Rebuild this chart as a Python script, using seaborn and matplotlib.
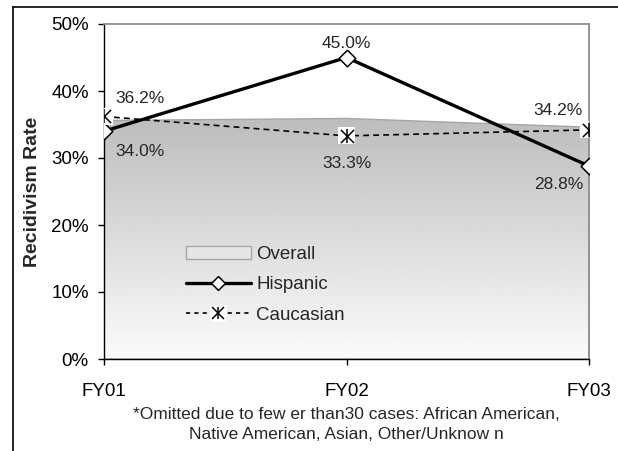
import numpy as np
import matplotlib
matplotlib.use("Agg")
import matplotlib.pyplot as plt
from matplotlib.lines import Line2D
from matplotlib.patches import Patch
from matplotlib.legend_handler import HandlerTuple
from matplotlib.ticker import FuncFormatter
import seaborn as sns

# Recidivism rates by fiscal year
years = ["FY01", "FY02", "FY03"]
overall = [0.356, 0.359, 0.346]
hispanic = [0.340, 0.450, 0.288]
caucasian = [0.362, 0.333, 0.342]
yticks = [0.0, 0.1, 0.2, 0.3, 0.4, 0.5]
footnote = ("*Omitted due to few er than30 cases: African American,\n"
            "Native American, Asian, Other/Unknow n")

sns.set_theme(style="white")
plt.rcParams["font.family"] = ["Liberation Sans", "DejaVu Sans"]

W, H = 618, 451
fig = plt.figure(figsize=(W / 100, H / 100), dpi=100)
ax = fig.add_axes([104 / W, 1 - 359 / H, (589 - 104) / W, (359 - 24) / H])

x = np.arange(len(years))

# Overall: gray gradient area
poly = ax.fill_between(x, overall, 0, facecolor="none", edgecolor="#a6a6a6", lw=1.0, zorder=1)
top = max(overall)
grad = np.linspace(0.985, 0.74, 256).reshape(-1, 1)
img = ax.imshow(grad, cmap="gray", vmin=0, vmax=1, aspect="auto",
                extent=[0, 2, 0, top], origin="lower", zorder=0.9)
img.set_clip_path(poly.get_paths()[0], transform=ax.transData)

diamond = [(0, 1), (1, 0), (0, -1), (-1, 0), (0, 1)]

# Hispanic: solid line with white diamonds
sns.lineplot(x=years, y=hispanic, ax=ax, color="black", lw=2.4, marker=diamond,
             ms=12, mfc="white", mec="black", mew=1.1, zorder=4, sort=False)

# Caucasian: dashed line with star markers on white squares
sns.lineplot(x=years, y=caucasian, ax=ax, color="black", lw=1.2, dashes=False,
             linestyle=(0, (3.5, 2.5)), zorder=3, sort=False)
sns.scatterplot(x=years, y=caucasian, ax=ax, marker="s", s=150, color="white",
                edgecolor="none", linewidth=0, zorder=5)
sns.scatterplot(x=years, y=caucasian, ax=ax, marker="x", s=90, color="black",
                linewidth=1.1, zorder=6)
sns.scatterplot(x=years, y=caucasian, ax=ax, marker="|", s=90, color="black",
                linewidth=1.1, zorder=6)

# Value labels
fs_tick = 13.5
fs_val = 12.5
px = 0.72
offs_h = [(11, -20, "left"), (0, 14, "center"), (-6, -18, "right")]
offs_c = [(11, 18, "left"), (0, -28, "center"), (-6, 19, "right")]
for i in range(3):
    dx, dy, ha = offs_h[i]
    ax.annotate(f"{hispanic[i] * 100:.1f}%", (x[i], hispanic[i]),
                xytext=(dx * px, dy * px), textcoords="offset points",
                ha=ha, va="center", fontsize=fs_val, zorder=7, annotation_clip=False)
    dx, dy, ha = offs_c[i]
    ax.annotate(f"{caucasian[i] * 100:.1f}%", (x[i], caucasian[i]),
                xytext=(dx * px, dy * px), textcoords="offset points",
                ha=ha, va="center", fontsize=fs_val, zorder=7, annotation_clip=False)

ax.set_xlim(0, 2)
ax.set_ylim(0, 0.5)
ax.set_yticks(yticks)
ax.yaxis.set_major_formatter(FuncFormatter(lambda v, p: f"{v * 100:.0f}%"))
ax.set_xticks(x)
ax.set_xticklabels(years)
ax.tick_params(axis="both", which="major", direction="out", length=4, width=1,
               color="black", labelsize=fs_tick, labelcolor="black", left=True, bottom=True)
ax.tick_params(axis="x", pad=13.5)
ax.tick_params(axis="y", pad=7)
ax.set_xlabel("")
ax.set_ylabel("Recidivism Rate", fontsize=14, fontweight="bold", labelpad=7)

for s in ["left", "bottom"]:
    ax.spines[s].set_color("black")
    ax.spines[s].set_linewidth(1.0)
for s in ["top", "right"]:
    ax.spines[s].set_color("#8c8c8c")
    ax.spines[s].set_linewidth(1.3)
ax.grid(False)

# Legend
h_over = Patch(facecolor="#e6e6e6", edgecolor="#a6a6a6", lw=1.0)
h_hisp = Line2D([], [], color="black", lw=2.4, marker=diamond, ms=10,
                mfc="white", mec="black", mew=1.1)
h_cauc = (Line2D([], [], color="black", lw=1.2, linestyle=(0, (2.5, 2.5))),
          Line2D([], [], ls="none", marker="s", ms=12, mfc="white", mec="none"),
          Line2D([], [], ls="none", marker="x", ms=9, mec="black", mew=1.1),
          Line2D([], [], ls="none", marker="|", ms=9, mec="black", mew=1.1))
ax.legend([h_over, h_hisp, h_cauc], ["Overall", "Hispanic", "Caucasian"],
          handler_map={tuple: HandlerTuple(ndivide=1)},
          loc="upper left", bbox_to_anchor=(186 / W, 1 - 246 / H),
          bbox_transform=fig.transFigure, frameon=False, fontsize=fs_tick,
          handlelength=3.45, handletextpad=0.3, labelspacing=0.7,
          borderpad=0, borderaxespad=0, numpoints=1)

# Footnote
fig.text(346 / W, 1 - 424.5 / H, footnote, ha="center", va="center",
         fontsize=12.5, linespacing=1.45)

# Outer frame (top and left edges)
fig.add_artist(Line2D([13 / W, 1], [1 - 7 / H, 1 - 7 / H], color="black", lw=1.2,
                      transform=fig.transFigure))
fig.add_artist(Line2D([13 / W, 13 / W], [1 - 7 / H, 0], color="black", lw=1.2,
                      transform=fig.transFigure))

fig.savefig("out.png", dpi=100)
